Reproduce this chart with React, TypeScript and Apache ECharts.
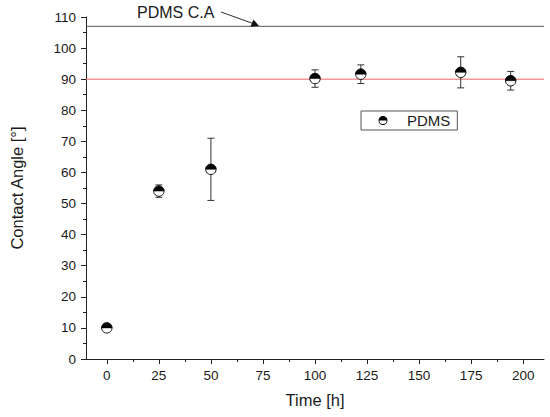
import React, { useEffect, useRef } from "react";
import * as echarts from "echarts";

const timeHours = [0, 25, 50, 100, 122, 170, 194];
const contactAngle = [10, 54, 61, 90.2, 91.6, 92.2, 89.5];
const angleError = [0.5, 2, 10, 2.8, 3, 5, 3];
const xMajorTicks = [0, 25, 50, 75, 100, 125, 150, 175, 200];
const xMinorTicks = [12.5, 37.5, 62.5, 87.5, 112.5, 137.5, 162.5, 187.5];
const xRange = [-10, 210];
const pdmsReference = 107;
const hydrophobicLine = 90;
const seriesName = "PDMS";

const FONT = "'Liberation Sans', Arial, sans-serif";
const TXT = "#1a1a1a";

const legendIcon =
  "path://M0,5 A5,5 0 0 1 10,5 Z M0,5 A5,5 0 0 0 10,5 L9,5 A4,4 0 0 1 1,5 Z";

export default function App() {
  const ref = useRef<HTMLDivElement>(null);

  useEffect(() => {
    if (!ref.current) return;
    const chart = echarts.init(ref.current, undefined, { renderer: "svg" });
    const data = timeHours.map((t, i) => [t, contactAngle[i], angleError[i]]);

    const xCommon = {
      type: "value",
      min: xRange[0],
      max: xRange[1],
      position: "bottom",
      splitLine: { show: false },
    };

    chart.setOption({
      animation: false,
      backgroundColor: "#ffffff",
      textStyle: { fontFamily: FONT },
      grid: { left: 83, right: 6, top: 17, bottom: 58, containLabel: false },
      legend: {
        show: true,
        left: 361,
        top: 111,
        orient: "horizontal",
        data: [{ name: seriesName, icon: legendIcon }],
        itemWidth: 9,
        itemHeight: 9,
        padding: [2, 7, 2, 17.5],
        borderColor: "#555",
        borderWidth: 1,
        borderRadius: 0,
        textStyle: {
          fontFamily: FONT,
          fontSize: 15,
          color: TXT,
          padding: [0, 0, 0, 14.5],
        },
      },
      xAxis: [
        {
          ...xCommon,
          name: "Time [h]",
          nameLocation: "middle",
          nameGap: 32,
          nameTextStyle: { fontFamily: FONT, fontSize: 16.5, color: TXT },
          axisLine: { show: true, onZero: false, lineStyle: { color: "#222", width: 1 } },
          axisTick: {
            show: true,
            length: 5,
            customValues: xMajorTicks,
            lineStyle: { color: "#222" },
          },
          axisLabel: {
            customValues: xMajorTicks,
            margin: 9,
            fontFamily: FONT,
            fontSize: 13.5,
            color: TXT,
          },
        },
        {
          ...xCommon,
          axisLine: { show: false, onZero: false },
          axisTick: {
            show: true,
            length: 3,
            customValues: xMinorTicks,
            lineStyle: { color: "#222" },
          },
          axisLabel: { show: false },
        },
      ],
      yAxis: {
        type: "value",
        min: 0,
        max: 110,
        interval: 10,
        name: "Contact Angle [°]",
        nameLocation: "middle",
        nameGap: 61,
        nameTextStyle: { fontFamily: FONT, fontSize: 16.5, color: TXT },
        axisLine: { show: true, onZero: false, lineStyle: { color: "#222", width: 1 } },
        axisTick: { show: true, length: 5, lineStyle: { color: "#222" } },
        minorTick: { show: true, splitNumber: 2, length: 3, lineStyle: { color: "#222" } },
        splitLine: { show: false },
        axisLabel: { margin: 10, fontFamily: FONT, fontSize: 13.5, color: TXT },
      },
      graphic: [
        {
          type: "text",
          left: 137,
          top: 4,
          style: {
            text: "PDMS C.A",
            font: `16px ${FONT}`,
            fill: TXT,
          },
          z: 10,
        },
        {
          type: "line",
          shape: { x1: 221, y1: 12, x2: 253, y2: 23.5 },
          style: { stroke: "#333", lineWidth: 1 },
          z: 10,
        },
        {
          type: "polygon",
          shape: { points: [[259, 26], [250.5, 26.5], [253.5, 19.5]] },
          style: { fill: "#111" },
          z: 10,
        },
      ],
      series: [
        {
          name: "ref107",
          type: "line",
          xAxisIndex: 0,
          data: [
            [xRange[0], pdmsReference],
            [xRange[1], pdmsReference],
          ],
          symbol: "none",
          silent: true,
          z: 2,
          lineStyle: { color: "#555", width: 1 },
        },
        {
          name: "ref90",
          type: "line",
          xAxisIndex: 0,
          data: [
            [xRange[0], hydrophobicLine],
            [xRange[1], hydrophobicLine],
          ],
          symbol: "none",
          silent: true,
          z: 2,
          lineStyle: { color: "#f06666", width: 1 },
        },
        {
          name: seriesName,
          type: "custom",
          xAxisIndex: 0,
          yAxisIndex: 0,
          clip: false,
          itemStyle: { color: "#000" },
          data,
          encode: { x: 0, y: 1 },
          z: 5,
          renderItem: (params: any, api: any) => {
            const x = api.value(0);
            const y = api.value(1);
            const e = api.value(2);
            const p = api.coord([x, y]);
            const top = api.coord([x, y + e]);
            const bot = api.coord([x, y - e]);
            const cap = 3.5;
            const r = 5.2;
            const stroke = { stroke: "#333", lineWidth: 1 };
            return {
              type: "group",
              children: [
                { type: "line", shape: { x1: p[0], y1: top[1], x2: p[0], y2: bot[1] }, style: stroke },
                { type: "line", shape: { x1: p[0] - cap, y1: top[1], x2: p[0] + cap, y2: top[1] }, style: stroke },
                { type: "line", shape: { x1: p[0] - cap, y1: bot[1], x2: p[0] + cap, y2: bot[1] }, style: stroke },
                {
                  type: "circle",
                  shape: { cx: p[0], cy: p[1], r },
                  style: { fill: "#fff", stroke: "#111", lineWidth: 1 },
                },
                {
                  type: "sector",
                  shape: { cx: p[0], cy: p[1], r0: 0, r, startAngle: Math.PI, endAngle: Math.PI * 2, clockwise: true },
                  style: { fill: "#000", stroke: "#000", lineWidth: 0.5 },
                },
              ],
            };
          },
        },
      ],
    });

    return () => chart.dispose();
  }, []);

  return (
    <div
      ref={ref}
      style={{ position: "fixed", left: 0, top: 0, width: 550, height: 417 }}
    />
  );
}
